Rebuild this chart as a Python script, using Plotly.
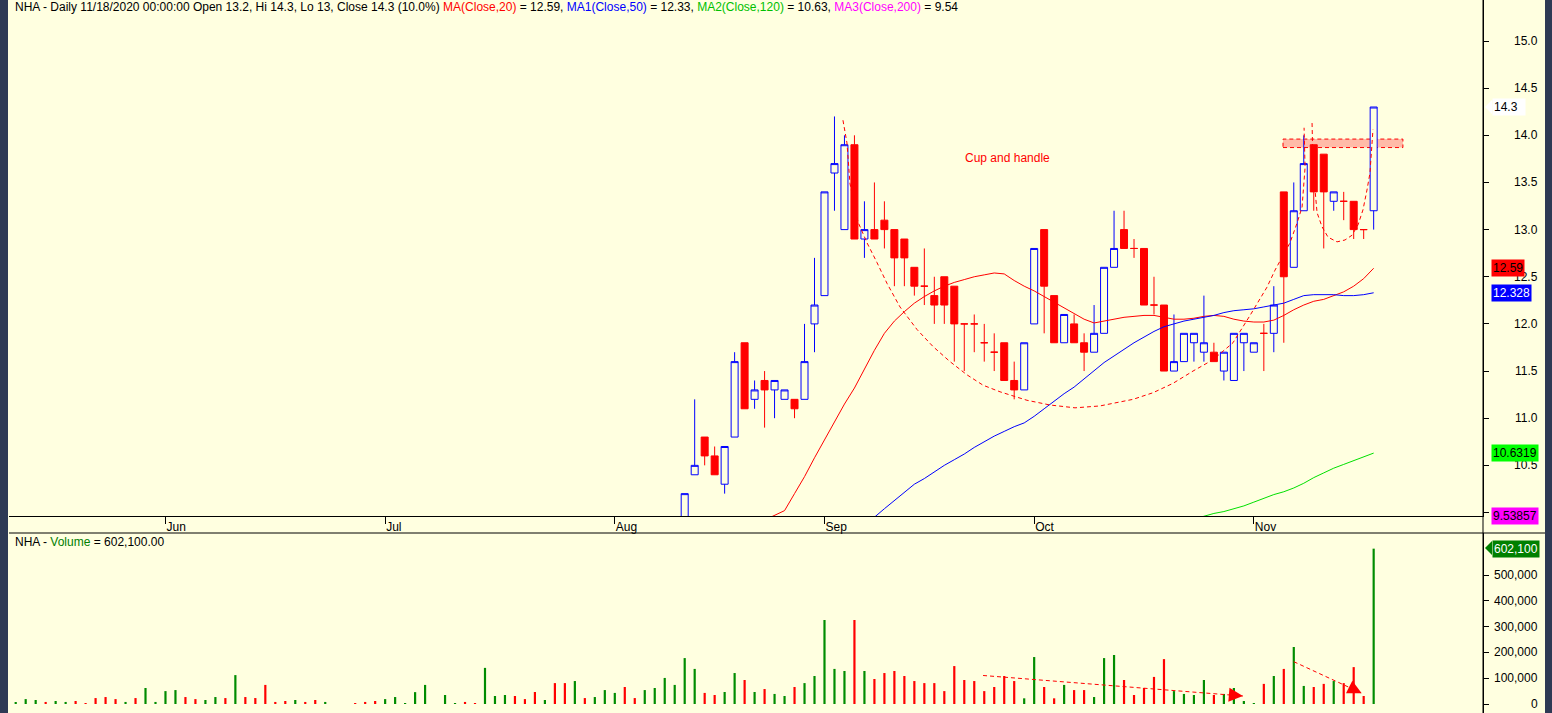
import pandas as pd
import plotly.graph_objects as go

W, H = 1552, 713
BG = "#FFFFE0"
FONT = "Liberation Sans, Arial, sans-serif"

# ---------------- data ----------------
# trading days (weekdays 11 May - 18 Nov 2020, exchange closed on 2 Sep)
dates = [d.strftime("%Y-%m-%d") for d in pd.bdate_range("2020-05-11", "2020-11-18")
         if d.strftime("%Y-%m-%d") != "2020-09-02"]

month_labels = ["Jun", "Jul", "Aug", "Sep", "Oct", "Nov"]
month_keys = ["2020-06", "2020-07", "2020-08", "2020-09", "2020-10", "2020-11"]

volume = [7800, 19000, 15500, 8000, 11600, 8000, 11600, 4000, 23000, 27000,
          19000, 8000, 23000, 62000, 8000, 50000, 54000, 27000, 19000, 15500,
          27000, 23000, 112000, 27000, 23000, 74000, 8000, 11600, 15500, 8000,
          15500, 8000, 0, 0, 4000, 8000, 11600, 19000, 27000, 4000,
          46000, 74000, 0, 35000, 4000, 8000, 4000, 140000, 31000, 35000,
          31000, 19000, 46500, 15500, 81000, 81000, 89000, 23000, 27000, 54000,
          43000, 66000, 23000, 54000, 62000, 101000, 74000, 178000, 136000, 43000,
          35000, 46500, 120000, 93000, 46500, 58000, 39000, 31000, 66000, 81000,
          108500, 325600, 136000, 128000, 325600, 128000, 97000, 120000, 128000, 108500,
          89000, 81000, 81000, 50000, 147000, 93000, 89000, 50000, 66000, 108500,
          89000, 22000, 182000, 66000, 22000, 74000, 54000, 54000, 27000, 178000,
          190000, 93000, 35000, 62000, 105000, 174000, 50000, 39000, 35000, 93000,
          35000, 39000, 62000, 11600, 4000, 78000, 108500, 136000, 221000, 70000,
          66000, 78000, 89000, 81000, 143000, 31000, 602100]
# g = up-day (green) volume, r = down-day (red) volume
vol_dir = list("gggrggrrrr" "rgrggggrrg" "grgrrrrrgr" "rgrrrrrggg" "gggggrrggg"
               "rrrgrrgrgg" "grrggggggr" "rggrgrggrg" "ggggrgrrrr" "rrrrrrrrrr"
               "rggrrgrrgg" "grrrrrgggg" "rggggrgrgg" "rrgrrrg")

candle_first_day = "2020-08-12"
open_ = [9.9, 10.4, 10.8, 10.6, 10.3, 10.8, 11.8, 11.2, 11.4, 11.3, 11.2, 11.2, 11.2, 12.0,
         12.3, 13.6, 13.0, 13.9, 12.9, 13.0, 13.1, 13.0, 12.9, 12.6, 12.4, 12.3, 12.5, 12.4,
         12.0, 12.0, 11.8, 11.7, 11.8, 11.4, 11.3, 12.0, 13.0, 12.3, 11.8, 12.0, 11.8, 11.7,
         11.9, 12.6, 13.0, 12.8, 12.8, 12.2, 12.2, 11.5, 11.6, 11.8, 11.7, 11.7, 11.5, 11.4,
         11.8, 11.7, 11.9, 11.9, 13.4, 12.6, 13.2, 13.9, 13.8, 13.3, 13.3, 13.3, 13.0, 13.2]
high = [10.2, 11.2, 10.8, 10.7, 10.7, 11.7, 11.8, 11.4, 11.5, 11.4, 11.3, 11.2, 12.0, 12.7,
        13.4, 14.2, 14.0, 14.0, 13.3, 13.5, 13.3, 13.0, 12.9, 12.6, 12.8, 12.5, 12.5, 12.4,
        12.0, 12.1, 12.0, 11.9, 11.8, 11.6, 11.8, 12.8, 13.0, 12.3, 12.1, 12.1, 11.9, 12.2,
        12.6, 13.2, 13.2, 12.9, 12.8, 12.5, 12.2, 12.1, 11.9, 11.9, 12.3, 11.8, 11.7, 11.9,
        11.9, 11.8, 12.0, 12.4, 13.4, 13.5, 14.0, 13.9, 13.8, 13.4, 13.4, 13.3, 13.0, 14.3]
low = [9.8, 10.4, 10.5, 10.4, 10.2, 10.8, 11.1, 11.1, 10.9, 11.0, 11.2, 11.0, 11.2, 11.7,
       12.3, 13.2, 13.0, 12.9, 12.7, 12.9, 12.8, 12.4, 12.4, 12.3, 12.2, 12.0, 12.0, 11.6,
       11.5, 11.7, 11.6, 11.5, 11.4, 11.2, 11.3, 12.0, 11.9, 11.8, 11.8, 11.8, 11.5, 11.7,
       11.9, 12.6, 12.8, 12.7, 12.2, 12.1, 11.5, 11.5, 11.6, 11.6, 11.6, 11.6, 11.4, 11.4,
       11.5, 11.7, 11.5, 11.7, 11.8, 12.6, 13.2, 13.2, 12.8, 13.2, 13.1, 12.9, 12.9, 13.0]
close = [10.2, 10.5, 10.6, 10.4, 10.7, 11.6, 11.1, 11.3, 11.3, 11.4, 11.3, 11.1, 11.6, 12.2,
         13.4, 13.7, 13.9, 12.9, 13.0, 12.9, 13.0, 12.7, 12.7, 12.4, 12.4, 12.2, 12.2, 12.0,
         12.0, 12.0, 11.8, 11.7, 11.4, 11.3, 11.8, 12.8, 12.4, 11.8, 12.1, 11.8, 11.7, 11.9,
         12.6, 12.8, 12.8, 12.8, 12.2, 12.2, 11.5, 11.6, 11.9, 11.9, 11.8, 11.6, 11.7, 11.9,
         11.9, 11.8, 11.9, 12.2, 12.5, 13.2, 13.7, 13.4, 13.4, 13.4, 13.3, 13.0, 13.0, 14.3]

ma20_first_day = "2020-08-24"
ma20 = [9.92, 9.97, 10.02, 10.2, 10.38, 10.58, 10.77, 10.96, 11.15, 11.32, 11.52, 11.72,
        11.90, 12.03, 12.13, 12.22, 12.29, 12.35, 12.40, 12.44, 12.47, 12.50, 12.52, 12.54,
        12.53, 12.46, 12.40, 12.35, 12.29, 12.23, 12.17, 12.11, 12.05, 12.01, 12.03, 12.05,
        12.07, 12.08, 12.09, 12.09, 12.07, 12.05, 12.05, 12.06, 12.08, 12.09, 12.08, 12.05,
        12.03, 12.02, 12.02, 12.04, 12.09, 12.15, 12.20, 12.24, 12.26, 12.30, 12.34, 12.40,
        12.48, 12.59]
ma50_first_day = "2020-09-08"
ma50 = [9.88, 9.95, 10.04, 10.13, 10.22, 10.30, 10.36, 10.43, 10.50, 10.56, 10.62, 10.69,
        10.75, 10.81, 10.86, 10.91, 10.95, 11.02, 11.10, 11.18, 11.26, 11.33, 11.42, 11.51,
        11.59, 11.66, 11.73, 11.80, 11.86, 11.92, 11.97, 12.00, 12.03, 12.05, 12.07, 12.09,
        12.12, 12.14, 12.15, 12.16, 12.18, 12.20, 12.22, 12.26, 12.30, 12.31, 12.31, 12.31,
        12.30, 12.30, 12.31, 12.33]
ma120_first_day = "2020-10-23"
ma120 = [9.93, 9.96, 9.99, 10.01, 10.04, 10.07, 10.11, 10.15, 10.19, 10.22, 10.26, 10.31,
         10.37, 10.42, 10.47, 10.51, 10.55, 10.59, 10.63]
ma20_last, ma50_last, ma120_last, ma200_last = 12.59, 12.328, 10.6319, 9.53857

price_ticks = [10.0, 10.5, 11.0, 11.5, 12.0, 12.5, 13.0, 13.5, 14.0, 14.5, 15.0]
vol_ticks = [0, 100000, 200000, 300000, 400000, 500000]

# hand-drawn annotations (day serial, price / volume)
cup = [(82.85, 14.16), (83.25, 13.92), (83.55, 13.49), (84.36, 13.08), (85.26, 12.86),
       (86.26, 12.65), (87.26, 12.43), (88.56, 12.18), (90.27, 11.94), (91.87, 11.76),
       (93.57, 11.60), (95.27, 11.46), (96.88, 11.35), (98.58, 11.28), (101.28, 11.19),
       (103.59, 11.14), (106.09, 11.11), (108.59, 11.13), (111.9, 11.20), (113.9, 11.27),
       (115.91, 11.37), (117.91, 11.50), (119.91, 11.62), (121.91, 11.80), (123.62, 12.09),
       (125.32, 12.39), (126.12, 12.57), (127.62, 12.86), (128.33, 13.07), (128.83, 13.24),
       (129.13, 13.66), (129.03, 14.08)]
handle = [(129.83, 14.13), (129.93, 13.66), (130.33, 13.18), (130.83, 13.03), (131.43, 12.92),
          (132.33, 12.87), (133.13, 12.89), (133.83, 12.94), (134.43, 13.05), (134.93, 13.21),
          (135.33, 13.42), (135.63, 13.60), (135.93, 14.06)]
resist_zone = (126.92, 138.93, 13.87, 13.96)
vol_trend1 = [(96.88, 110500), (122.9, 31000)]
vol_trend2 = [(128.0, 164000), (134.8, 42000)]

# ---------------- figure ----------------
i0 = dates.index(candle_first_day)
cdays = dates[i0:]
up = [k for k in range(len(cdays)) if close[k] > open_[k]]
dn = [k for k in range(len(cdays)) if close[k] <= open_[k]]

def pick(arr, idx):
    return [arr[k] for k in idx]

fig = go.Figure()
fig.add_trace(go.Bar(x=dates, y=volume, width=0.22,
                     marker=dict(color=["#008C00" if c == "g" else "#FF0000" for c in vol_dir],
                                 line=dict(width=0)),
                     xaxis="x2", yaxis="y2", hoverinfo="skip"))
for idx, col, fill in [(up, "#0000FF", BG), (dn, "#FF0000", "#FF0000")]:
    fig.add_trace(go.Candlestick(
        x=pick(cdays, idx), open=pick(open_, idx), high=pick(high, idx),
        low=pick(low, idx), close=pick(close, idx),
        increasing=dict(line=dict(color=col, width=1), fillcolor=fill),
        decreasing=dict(line=dict(color=col, width=1), fillcolor=fill),
        whiskerwidth=0, xaxis="x", yaxis="y", hoverinfo="skip"))

for first, vals, col in [(ma20_first_day, ma20, "#FF0000"), (ma50_first_day, ma50, "#0000FF"),
                         (ma120_first_day, ma120, "#00E000")]:
    k = dates.index(first)
    fig.add_trace(go.Scatter(x=dates[k:k + len(vals)], y=vals, mode="lines",
                             line=dict(color=col, width=1), xaxis="x", yaxis="y",
                             hoverinfo="skip"))

xr = [-0.671, 146.95]
month_ticks = [next(d for d in dates if d.startswith(m)) for m in month_keys]
xdom = [9 / W, 1483 / W]
common_x = dict(type="category", categoryorder="array", categoryarray=dates, range=xr,
                domain=xdom, showgrid=False, zeroline=False, fixedrange=True)

fig.update_layout(
    width=W, height=H, autosize=False,
    margin=dict(l=0, r=0, t=0, b=0, pad=0),
    paper_bgcolor=BG, plot_bgcolor=BG, showlegend=False,
    boxgap=0.3, boxgroupgap=0,
    font=dict(family=FONT, size=12, color="black"),
    xaxis=dict(**common_x, anchor="y", showline=True, linecolor="black", linewidth=1,
               ticks="outside", ticklen=7, tickcolor="black", tickvals=month_ticks,
               ticktext=month_labels, ticklabelposition="outside right",
               tickfont=dict(size=12, color="black"), rangeslider=dict(visible=False)),
    yaxis=dict(domain=[1 - 516 / H, 1], anchor="x", side="right", range=[9.9629, 15.4348],
               showline=True, linecolor="black", ticks="outside", ticklen=5,
               tickcolor="black", tickvals=price_ticks, showticklabels=False,
               showgrid=False, zeroline=False, fixedrange=True),
    xaxis2=dict(**common_x, anchor="y2", showticklabels=False, showline=False, ticks=""),
    yaxis2=dict(domain=[0, 180 / H], anchor="x2", side="right", range=[-34884, 662791],
                showline=True, linecolor="black", ticks="outside", ticklen=5,
                tickcolor="black", tickvals=vol_ticks, showticklabels=False,
                showgrid=False, zeroline=False, fixedrange=True),
)

ann = []
# axis tick labels (right aligned)
for p in price_ticks:
    ann.append(dict(x=1540 / W, xref="paper", y=p, yref="y", text=f"{p:.1f}",
                    showarrow=False, xanchor="right", yanchor="middle",
                    font=dict(size=12, color="black")))
for v in vol_ticks:
    ann.append(dict(x=1540 / W, xref="paper", y=v, yref="y2", text=f"{v:,}",
                    showarrow=False, xanchor="right", yanchor="middle",
                    font=dict(size=12, color="black")))

def tag(y, yref, text, bg, fg, x=1491):
    return dict(x=x / W, xref="paper", y=y, yref=yref, text=text, showarrow=False,
                xanchor="left", yanchor="middle", bgcolor=bg, borderpad=1,
                font=dict(size=12, color=fg))

ann.append(tag(close[-1], "y", f"{close[-1]:g}  ", "#FFFFFF", "black", x=1492))
ann.append(tag(ma20_last, "y", f"{ma20_last:g}", "#FF0000", "black"))
ann.append(tag(ma50_last, "y", f"{ma50_last:g}", "#0000FF", "white"))
ann.append(tag(ma120_last, "y", f"{ma120_last:g}", "#00FF00", "black"))
ann.append(tag(1 - 516 / H, "paper", f"{ma200_last:g}", "#FF00FF", "black"))
ann.append(tag(volume[-1], "y2", f"{volume[-1]:,}", "#008000", "white", x=1492))

hdr = (f"NHA - Daily 11/18/2020 00:00:00 Open {open_[-1]:g}, Hi {high[-1]:g}, "
       f"Lo {low[-1]:g}, Close {close[-1]:g} (10.0%) "
       f"<span style='color:#FF0000'>MA(Close,20)</span> = {ma20_last:.2f}, "
       f"<span style='color:#0000FF'>MA1(Close,50)</span> = {ma50_last:.2f}, "
       f"<span style='color:#00C000'>MA2(Close,120)</span> = {ma120_last:.2f}, "
       f"<span style='color:#FF00FF'>MA3(Close,200)</span> = {ma200_last:.2f}")
ann.append(dict(x=13 / W, xref="paper", y=1 - 7 / H, yref="paper", text=hdr,
                showarrow=False, xanchor="left", yanchor="middle",
                font=dict(size=12, color="black")))
ann.append(dict(x=13 / W, xref="paper", y=1 - 542 / H, yref="paper",
                text=f"NHA - <span style='color:#008000'>Volume</span> = {volume[-1]:,.2f}",
                showarrow=False, xanchor="left", yanchor="middle",
                font=dict(size=12, color="black")))
ann.append(dict(x=99.3, xref="x", y=13.76, yref="y", text="Cup and handle",
                showarrow=False, font=dict(size=12, color="#FF0000")))
# arrow heads of the volume trend lines
for (xa, ya), (xb, yb), off in [(vol_trend1[0], vol_trend1[1], (-12, -1)),
                                (vol_trend2[0], vol_trend2[1], (-10, -5))]:
    ann.append(dict(x=xb, y=yb, xref="x2", yref="y2", text="", showarrow=True,
                    ax=off[0], ay=off[1], arrowhead=2, arrowsize=1.4, arrowwidth=2,
                    arrowcolor="#FF0000"))

shapes = []
def path_of(pts):
    return "M " + " L ".join(f"{a},{b}" for a, b in pts)

dash = "4px,3px"
shapes.append(dict(type="rect", xref="x", yref="y", x0=resist_zone[0], x1=resist_zone[1],
                   y0=resist_zone[2], y1=resist_zone[3], fillcolor="#FFBBA8",
                   line=dict(color="#FF0000", width=1, dash=dash), layer="below"))
shapes.append(dict(type="path", xref="x", yref="y", path=path_of(cup),
                   line=dict(color="#FF0000", width=1, dash=dash)))
shapes.append(dict(type="path", xref="x", yref="y", path=path_of(handle),
                   line=dict(color="#FF0000", width=1, dash=dash)))
for a, b in [vol_trend1, vol_trend2]:
    shapes.append(dict(type="line", xref="x2", yref="y2", x0=a[0], y0=a[1], x1=b[0], y1=b[1],
                       line=dict(color="#FF0000", width=1, dash=dash)))
# frame pieces
shapes.append(dict(type="line", xref="paper", yref="paper", x0=9 / W, x1=1545 / W,
                   y0=1 - 533 / H, y1=1 - 533 / H, line=dict(color="black", width=1)))
shapes.append(dict(type="line", xref="paper", yref="paper", x0=1483 / W, x1=1483 / W,
                   y0=0, y1=1, line=dict(color="black", width=1)))
shapes.append(dict(type="rect", xref="paper", yref="paper", x0=0, x1=8 / W, y0=0, y1=1,
                   fillcolor="#2E3A55", line=dict(width=0)))
shapes.append(dict(type="rect", xref="paper", yref="paper", x0=1545 / W, x1=1, y0=0, y1=1,
                   fillcolor="#2E3A55", line=dict(width=0)))
# arrow notches of the value tags
for yy in [107, 548]:
    shapes.append(dict(type="path", xref="paper", yref="paper",
                       path=f"M {1485 / W},{1 - yy / H} L {1492 / W},{1 - (yy - 7) / H} "
                            f"L {1492 / W},{1 - (yy + 7) / H} Z",
                       fillcolor="#FFFFFF" if yy == 107 else "#008000", line=dict(width=0)))

fig.update_layout(annotations=ann, shapes=shapes)

fig.write_html("out.html", config={"displayModeBar": False, "staticPlot": True},
               post_script="document.body.style.margin='0';document.body.style.overflow='hidden';")
